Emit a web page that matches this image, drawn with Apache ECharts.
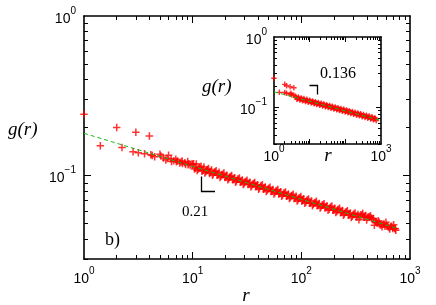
<!DOCTYPE html>
<html><head><meta charset="utf-8">
<script src="https://cdn.jsdelivr.net/npm/echarts@6/dist/echarts.min.js"></script>
<style>html,body{margin:0;padding:0;background:#fff}#c{width:436px;height:305px}</style>
</head><body><div id="c"></div>
<script>
// ---- main panel data (r, g(r)) ----
const mainR = [1, 1.414, 2, 2.236, 2.828, 3, 3.162, 3.606, 4, 4.123, 4.243, 4.472, 5, 5.099, 5.385, 5.657, 5.831, 6, 6.325, 6.403, 6.708, 7, 7.071, 7.28, 7.616, 7.81, 8, 8.062, 8.485, 8.602, 9, 9.055, 9.22, 9.487, 9.849,
  10, 10.4, 10.8, 11.2, 11.7, 12.2, 12.7, 13.2, 13.7, 14.3, 14.9, 15.5, 16.1, 16.8, 17.5, 18.2, 19, 19.8, 20.6, 21.5, 22.4, 23.3, 24.3, 25.3, 26.4, 27.5, 28.6, 29.8, 31, 32.3, 33.6, 35, 36.5, 38, 39.6, 41.2, 42.9, 44.7, 46.6, 48.5, 50.5, 52.6, 54.8, 57.1, 59.5, 62, 64.6, 67.3, 70.1, 73, 76, 79.2, 82.5, 86, 89.6, 93.3, 97.2, 101, 105, 110, 114, 119, 124, 129, 135, 140, 146, 152, 159, 165, 172, 180, 187, 195, 203, 212, 220, 230, 239, 249, 260, 271, 282, 294, 306, 319, 332, 346, 360, 375, 391, 407, 424, 442, 460, 480, 500, 520, 542, 565, 588, 613, 638, 665, 693, 722, 740];
const mainG = [0.242, 0.1535, 0.200, 0.1497, 0.141, 0.187, 0.139, 0.137, 0.177, 0.135, 0.1334, 0.131, 0.136, 0.1325, 0.129, 0.1254, 0.128, 0.134, 0.127, 0.1225, 0.124, 0.1267, 0.122, 0.1235, 0.120, 0.1215, 0.1236, 0.119, 0.1205, 0.1175, 0.1224, 0.117, 0.1185, 0.1165, 0.118,
  0.1177, 0.1099, 0.1180, 0.1094, 0.1128, 0.1063, 0.1130, 0.1056, 0.1091, 0.1029, 0.1084, 0.1022, 0.1056, 0.1005, 0.1048, 0.0989, 0.1020, 0.0972, 0.1003, 0.0956, 0.0986, 0.0940, 0.0969, 0.0924, 0.0953, 0.0907, 0.0937, 0.0893, 0.0922, 0.0878, 0.0907, 0.0863, 0.0891, 0.0850, 0.0876, 0.0835, 0.0862, 0.0821, 0.0848, 0.0808, 0.0833, 0.0794, 0.0819, 0.0780, 0.0806, 0.0767, 0.0792, 0.0755, 0.0778, 0.0742, 0.0766, 0.0729, 0.0753, 0.0717, 0.0741, 0.0706, 0.0727, 0.0694, 0.0716, 0.0681, 0.0704, 0.0670, 0.0692, 0.0660, 0.0679, 0.0648, 0.0669, 0.0637, 0.0657, 0.0626, 0.0647, 0.0615, 0.0635, 0.0606, 0.0625, 0.0595, 0.0614, 0.0585, 0.0604, 0.0575, 0.0594, 0.0565, 0.0583, 0.0556, 0.0574, 0.0552, 0.0570, 0.0549, 0.0566, 0.0551, 0.0562, 0.0546, 0.0552, 0.0542, 0.0538, 0.0513, 0.0503, 0.0509, 0.0490, 0.0496, 0.0481, 0.0487, 0.0473, 0.0479, 0.0466, 0.0466, 0.0455];
const mainR2 = [10.2, 10.6, 11.0, 11.45, 11.95, 12.45, 12.95, 13.45, 14.0, 14.6, 15.2, 15.8, 16.45, 17.15, 17.85, 18.6, 19.4, 20.2, 21.05, 21.95, 22.85, 23.8, 24.8, 25.85, 26.95, 28.05, 29.2, 30.4, 31.65, 32.95, 34.3, 35.75, 37.25, 38.8, 40.4, 42.05, 43.8, 45.65, 47.55, 49.5, 51.55, 53.7, 55.95, 58.3, 60.75, 63.3, 65.95, 68.7, 71.55, 74.5, 77.6, 80.85, 84.25, 87.8, 91.45, 95.25, 99.1, 103, 107.5, 112, 116.5, 121.5, 126.5, 132, 137.5, 143, 149, 155.5, 162, 168.5, 176, 183.5, 191, 199, 207.5, 216, 225, 234.5, 244, 254.5, 265.5, 276.5, 288, 300, 312.5, 325.5, 339, 353, 367.5, 383, 399, 415.5, 433, 451, 470, 490, 510, 531, 553.5, 576.5, 600.5, 625.5, 651.5, 679, 707.5, 731];
const mainG2 = [0.1184, 0.1117, 0.1075, 0.1122, 0.1145, 0.1080, 0.1039, 0.1085, 0.1108, 0.1045, 0.1005, 0.1049, 0.1071, 0.1011, 0.0972, 0.1014, 0.1036, 0.0977, 0.0940, 0.0981, 0.1002, 0.0944, 0.0908, 0.0947, 0.0967, 0.0913, 0.0878, 0.0916, 0.0936, 0.0883, 0.0850, 0.0886, 0.0905, 0.0854, 0.0821, 0.0856, 0.0875, 0.0826, 0.0794, 0.0828, 0.0846, 0.0798, 0.0767, 0.0801, 0.0817, 0.0771, 0.0742, 0.0774, 0.0790, 0.0746, 0.0717, 0.0748, 0.0764, 0.0722, 0.0694, 0.0723, 0.0738, 0.0698, 0.0670, 0.0699, 0.0714, 0.0674, 0.0648, 0.0676, 0.0690, 0.0651, 0.0627, 0.0653, 0.0667, 0.0630, 0.0606, 0.0631, 0.0645, 0.0609, 0.0586, 0.0610, 0.0623, 0.0588, 0.0565, 0.0590, 0.0602, 0.0568, 0.0546, 0.0571, 0.0582, 0.0549, 0.0529, 0.0568, 0.0581, 0.0548, 0.0526, 0.0549, 0.0560, 0.0529, 0.0489, 0.0510, 0.0521, 0.0492, 0.0478, 0.0498, 0.0509, 0.0480, 0.0462, 0.0482, 0.0492, 0.0465];
const mainFitR = [1, 740];
const mainFitG = [0.184, 0.0469];

// ---- inset data ----
const insetR = [1, 1.414, 2, 2.236, 2.828, 3.606, 2, 2.236, 2.828, 3, 3.162, 3.606,
  4, 4.4, 4.8, 5.3, 5.8, 6.3, 6.9, 7.6, 8.3, 9.1, 10, 11, 12, 13.2, 14.5, 15.8, 17.4, 19, 20.9, 22.9, 25, 27.5, 30, 33, 36, 39.5, 43, 47.5, 52, 57, 62.5, 68.5, 75, 82, 90, 98.5, 108, 118, 130, 142, 156, 170, 187, 205, 224, 245, 269, 295, 323, 354, 388, 425, 465, 510, 559, 612, 670, 735];
const insetG = [0.259, 0.163, 0.212, 0.203, 0.196, 0.190, 0.162, 0.158, 0.153, 0.158, 0.150, 0.148,
  0.1430, 0.1303, 0.1395, 0.1270, 0.1359, 0.1240, 0.1328, 0.1210, 0.1295, 0.1181, 0.1263, 0.1150, 0.1231, 0.1122, 0.1200, 0.1095, 0.1171, 0.1068, 0.1142, 0.1041, 0.1114, 0.1016, 0.1087, 0.0991, 0.1060, 0.0967, 0.1035, 0.0943, 0.1009, 0.0920, 0.0984, 0.0897, 0.0960, 0.0876, 0.0936, 0.0853, 0.0913, 0.0833, 0.0890, 0.0812, 0.0868, 0.0793, 0.0848, 0.0773, 0.0827, 0.0755, 0.0807, 0.0735, 0.0786, 0.0717, 0.0768, 0.0700, 0.0749, 0.0683, 0.0730, 0.0666, 0.0712, 0.0649];
const insetR2 = [4.2, 4.6, 5.05, 5.55, 6.05, 6.6, 7.25, 7.95, 8.7, 9.55, 10.5, 11.5, 12.6, 13.85, 15.15, 16.6, 18.2, 19.95, 21.9, 23.95, 26.25, 28.75, 31.5, 34.5, 37.75, 41.25, 45.25, 49.75, 54.5, 59.75, 65.5, 71.75, 78.5, 86, 94.25, 103, 113, 124, 136, 149, 163, 178.5, 196, 214.5, 234.5, 257, 282, 309, 338.5, 371, 406.5, 445, 487.5, 534.5, 585.5, 641, 702.5];
const insetG2 = [0.1380, 0.1336, 0.1345, 0.1302, 0.1313, 0.1272, 0.1282, 0.1240, 0.1250, 0.1210, 0.1218, 0.1179, 0.1189, 0.1150, 0.1159, 0.1123, 0.1130, 0.1094, 0.1102, 0.1067, 0.1076, 0.1041, 0.1049, 0.1016, 0.1023, 0.0991, 0.0999, 0.0966, 0.0974, 0.0942, 0.0949, 0.0920, 0.0927, 0.0897, 0.0904, 0.0875, 0.0882, 0.0853, 0.0860, 0.0833, 0.0839, 0.0813, 0.0818, 0.0792, 0.0799, 0.0773, 0.0779, 0.0753, 0.0760, 0.0736, 0.0741, 0.0718, 0.0723, 0.0700, 0.0705, 0.0683, 0.0688];
const insetFitR = [1, 1000];
const insetFitG = [0.166, 0.0649];

// ---- ticks / labels ----
const xLabelValues = [1, 10, 100, 1000];
const xLabelExp = ['0', '1', '2', '3'];
const insetXLabelValues = [1, 1000];
const insetXLabelExp = ['0', '3'];
const yLabelValues = [0.1, 1];
const yLabelExp = ['\u22121', '0'];
const xMajor = [10, 100];
const xMinor = [2, 3, 4, 5, 6, 7, 8, 9, 20, 30, 40, 50, 60, 70, 80, 90, 200, 300, 400, 500, 600, 700, 800, 900];
const yMajor = [0.1];
const yMinor = [0.03, 0.04, 0.05, 0.06, 0.07, 0.08, 0.09, 0.2, 0.3, 0.4, 0.5, 0.6, 0.7, 0.8, 0.9];

const SANS = '"Liberation Sans", Arial, sans-serif';
const SERIF = '"Liberation Serif", "Times New Roman", serif';

const rich = {
  b: {fontFamily: SANS, fontSize: 14, color: '#000', lineHeight: 20, verticalAlign: 'bottom'},
  s: {fontFamily: SANS, fontSize: 10, color: '#000', lineHeight: 9, verticalAlign: 'top'}
};
function fmt(vals, exps) {
  return function (v) {
    for (let i = 0; i < vals.length; i++) {
      if (Math.abs(Math.log10(v) - Math.log10(vals[i])) < 1e-6) return '{b|10}{s|' + exps[i] + '}';
    }
    return '';
  };
}
function axisSet(kind, grid, min, max, major, minor, labelVals, labelExps, majorLen, minorLen, margin) {
  const pos = kind === 'x' ? ['bottom', 'top'] : ['left', 'right'];
  const out = [];
  pos.forEach(function (p, pi) {
    [0, 1].forEach(function (m) {
      out.push({
        type: 'log', logBase: 10, gridIndex: grid, position: p, min: min, max: max,
        splitLine: {show: false}, minorTick: {show: false},
        axisLine: {show: m === 0, onZero: false, lineStyle: {color: '#000', width: 1.6}},
        axisTick: {show: true, inside: true, length: m === 0 ? majorLen : minorLen,
          customValues: m === 0 ? major : minor, lineStyle: {color: '#000', width: 1}},
        axisLabel: (pi === 0 && m === 0) ? {show: true, customValues: labelVals, formatter: fmt(labelVals, labelExps), rich: rich, margin: margin} : {show: false}
      });
    });
  });
  return out;
}

const xAxes = [].concat(
  axisSet('x', 0, 1, 1000, xMajor, xMinor, xLabelValues, xLabelExp, 7, 4, 7),
  axisSet('x', 1, 1, 1000, xMajor, xMinor, insetXLabelValues, insetXLabelExp, 5, 3, 0)
);
const yAxes = [].concat(
  axisSet('y', 0, 0.03, 1, yMajor, yMinor, yLabelValues, yLabelExp, 7, 4, 8),
  axisSet('y', 1, 0.03, 1, yMajor, yMinor, yLabelValues, yLabelExp, 5, 3, 7)
);

const plus = 'path://M0,5L10,5M5,0L5,10';
function zip(a, b) { return a.map(function (v, i) { return [v, b[i]]; }); }

const chart = echarts.init(document.getElementById('c'), null, {renderer: 'canvas'});
chart.setOption({
  animation: false,
  backgroundColor: '#fff',
  grid: [
    {left: 84, top: 16, width: 326, height: 243},
    {left: 274, top: 37, width: 107, height: 107}
  ],
  xAxis: xAxes,
  yAxis: yAxes,
  series: [
    {type: 'scatter', xAxisIndex: 0, yAxisIndex: 0, data: zip(mainR, mainG).concat(zip(mainR2, mainG2)), symbol: plus, symbolSize: 7.5,
      itemStyle: {color: 'rgba(0,0,0,0)', borderColor: '#ff0000', borderWidth: 1.5}, silent: true},
    {type: 'line', xAxisIndex: 0, yAxisIndex: 0, data: zip(mainFitR, mainFitG), showSymbol: false, symbol: 'none',
      lineStyle: {color: '#11bb11', width: 1, type: [4, 3]}, silent: true},
    {type: 'scatter', xAxisIndex: 4, yAxisIndex: 4, data: zip(insetR, insetG).concat(zip(insetR2, insetG2)), symbol: plus, symbolSize: 5.5,
      itemStyle: {color: 'rgba(0,0,0,0)', borderColor: '#ff0000', borderWidth: 1.4}, silent: true},
    {type: 'line', xAxisIndex: 4, yAxisIndex: 4, data: zip(insetFitR, insetFitG), showSymbol: false, symbol: 'none',
      lineStyle: {color: '#11bb11', width: 1, type: [4, 3]}, silent: true}
  ],
  graphic: [
    {type: 'text', x: 8, y: 130, style: {text: 'g(r)', font: 'italic 19px ' + SERIF, fill: '#000', verticalAlign: 'middle'}},
    {type: 'text', x: 246, y: 296, style: {text: 'r', font: 'italic 19px ' + SERIF, fill: '#000', align: 'center', verticalAlign: 'middle'}},
    {type: 'text', x: 105, y: 240, style: {text: 'b)', font: '18px ' + SERIF, fill: '#000', verticalAlign: 'middle'}},
    {type: 'text', x: 182, y: 212, style: {text: '0.21', font: '15px ' + SERIF, fill: '#000', verticalAlign: 'middle'}},
    {type: 'text', x: 320, y: 74, style: {text: '0.136', font: '16px ' + SERIF, fill: '#000', verticalAlign: 'middle'}},
    {type: 'text', x: 202, y: 87, style: {text: 'g(r)', font: 'italic 19px ' + SERIF, fill: '#000', verticalAlign: 'middle'}},
    {type: 'text', x: 328, y: 156, style: {text: 'r', font: 'italic 19px ' + SERIF, fill: '#000', align: 'center', verticalAlign: 'middle'}},
    {type: 'polyline', shape: {points: [[201.5, 176.5], [201.5, 191.5], [215, 191.5]]}, style: {stroke: '#000', lineWidth: 1.3, fill: null}},
    {type: 'polyline', shape: {points: [[309.5, 85.5], [317.5, 85.5], [317.5, 94.5]]}, style: {stroke: '#000', lineWidth: 1.3, fill: null}}
  ]
});
</script>
</body></html>
